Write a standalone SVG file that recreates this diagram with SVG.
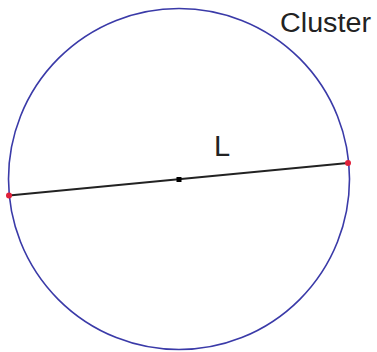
<svg xmlns="http://www.w3.org/2000/svg" width="377" height="352" viewBox="0 0 377 352">
<style>
.lbl{font-family:"Liberation Sans",Arial,sans-serif;fill:#222;}
</style>
<rect width="377" height="352" fill="#ffffff"/>
<g id="cluster">
<circle cx="179" cy="179" r="170.5" fill="none" stroke="#3a3aa8" stroke-width="1.6"/>
<text class="lbl" x="280" y="32" font-size="27" textLength="91" lengthAdjust="spacingAndGlyphs">Cluster</text>
</g>
<g id="connectors">
<line x1="9" y1="195.5" x2="348" y2="163" stroke="#222" stroke-width="1.8"/>
<text class="lbl" x="214" y="156" font-size="29">L</text>
</g>
<g id="p1"><circle cx="9" cy="195.5" r="3" fill="#e0203a"/></g>
<g id="p2"><circle cx="348" cy="163" r="3" fill="#e0203a"/></g>
<g id="center"><rect x="176.5" y="177" width="5" height="5" fill="#000"/></g>
</svg>
